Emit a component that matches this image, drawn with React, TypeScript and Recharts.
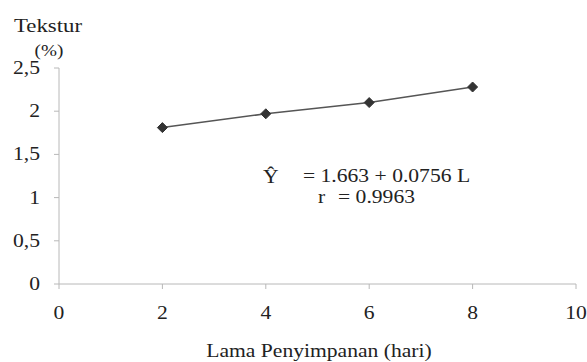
import React from 'react';
import { LineChart, Line, XAxis, YAxis } from 'recharts';

const days = [2, 4, 6, 8];
const texture = [1.81, 1.97, 2.1, 2.28];
const xTicks = [0, 2, 4, 6, 8, 10];
const yTicks = [0, 0.5, 1, 1.5, 2, 2.5];

const data = days.map((d, i) => ({ day: d, texture: texture[i] }));

const font = '"Liberation Serif", "Times New Roman", serif';
const SX = 1.2;
const TXT = '#222';

const Diamond = (props: any) => {
  const { cx, cy } = props;
  if (cx == null || cy == null) return null;
  const r = 5;
  return (
    <polygon
      points={`${cx},${cy - r} ${cx + r},${cy} ${cx},${cy + r} ${cx - r},${cy}`}
      fill="#333"
      stroke="#333"
      strokeWidth={1}
    />
  );
};

const XTick = (props: any) => {
  const { x, y, payload } = props;
  return (
    <text
      transform={`translate(${x},${y + 28}) scale(${SX},1)`}
      textAnchor="middle"
      fontSize={18}
      fontFamily={font}
      fill={TXT}
    >
      {String(payload.value)}
    </text>
  );
};

const YTick = (props: any) => {
  const { x, y, payload } = props;
  return (
    <text
      transform={`translate(${x - 12},${y + 6}) scale(${SX},1)`}
      textAnchor="end"
      fontSize={18}
      fontFamily={font}
      fill={TXT}
    >
      {String(payload.value).replace('.', ',')}
    </text>
  );
};

const T = ({ x, y, size = 18, anchor = 'start', children }: any) => (
  <text
    transform={`translate(${x},${y}) scale(${SX},1)`}
    textAnchor={anchor}
    fontSize={size}
    fontFamily={font}
    fill={TXT}
  >
    {children}
  </text>
);

export default function App() {
  return (
    <div style={{ position: 'absolute', left: 0, top: 0, width: 587, height: 362, background: '#fff' }}>
      <LineChart width={587} height={362} data={data} margin={{ top: 68, right: 11, bottom: 0, left: 0 }}>
        <XAxis
          dataKey="day"
          type="number"
          domain={[0, 10]}
          ticks={xTicks}
          height={78}
          stroke="#b8b8b8"
          tickSize={5}
          tick={<XTick />}
        />
        <YAxis
          type="number"
          domain={[0, 2.5]}
          ticks={yTicks}
          width={59}
          stroke="#b8b8b8"
          tickSize={5}
          tick={<YTick />}
        />
        <Line
          dataKey="texture"
          stroke="#555"
          strokeWidth={1.5}
          dot={<Diamond />}
          activeDot={false}
          isAnimationActive={false}
        />
      </LineChart>
      <svg width={587} height={362} style={{ position: 'absolute', left: 0, top: 0, pointerEvents: 'none' }}>
        <T x={48} y={32} size={19} anchor="middle">Tekstur</T>
        <T x={49} y={56} size={16} anchor="middle">(%)</T>
        <T x={319} y={357} size={18} anchor="middle">Lama Penyimpanan (hari)</T>
        <T x={263} y={183} size={18}>Ŷ</T>
        <T x={303} y={182} size={18}>= 1.663 + 0.0756 L</T>
        <T x={318} y={203} size={18}>r</T>
        <T x={415} y={203} size={18} anchor="end">= 0.9963</T>
      </svg>
    </div>
  );
}
